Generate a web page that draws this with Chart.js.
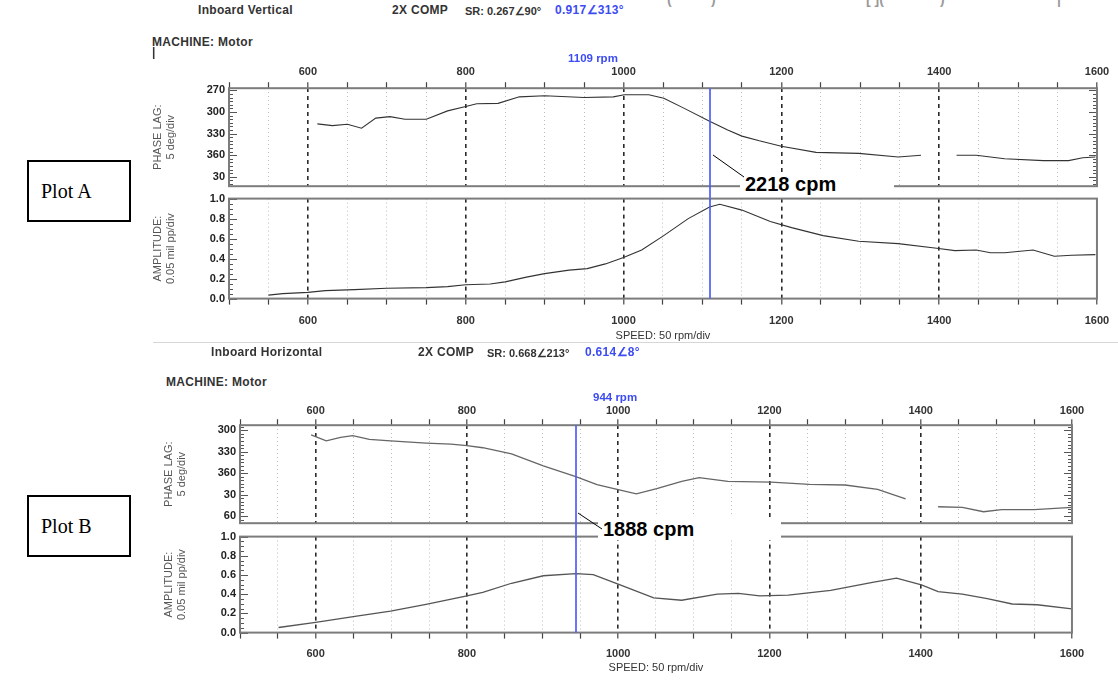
<!DOCTYPE html>
<html>
<head>
<meta charset="utf-8">
<title>Motor inboard - 2X comp Bode plots</title>
<script src="https://cdn.jsdelivr.net/npm/chart.js@4.4.1/dist/chart.umd.min.js"></script>
<style>
  body { margin: 0; width: 1118px; height: 687px; position: relative; overflow: hidden; background: #fff;
         font-family: "Liberation Sans", Arial, sans-serif; }
  .txt { position: absolute; white-space: nowrap; font-size: 12px; font-weight: bold; letter-spacing: 0.3px;
         color: #333; line-height: 14px; z-index: 4; }
  .blue { color: #3c4cf2; }
  .small { font-size: 11.5px; letter-spacing: 0; }
  .sr { font-size: 11px; letter-spacing: 0; top: 4px; }
  .cut { position: absolute; top: -9px; font-size: 14px; color: #9a9a9a; font-weight: bold; }
  .plotbox { position: absolute; left: 27px; width: 104px; height: 62px; box-sizing: border-box; border: 2px solid #000;
             font-family: "Liberation Serif", "Times New Roman", serif; font-size: 20px; line-height: 58px; padding-left: 12px; }
  .cpm { position: absolute; background: #fff; font: bold 20px "Liberation Sans", Arial, sans-serif; color: #000;
         z-index: 5; line-height: 24px; padding-left: 5px; box-sizing: border-box; }
  .wrap { position: absolute; }
</style>
</head>
<body>

<span class="cut" style="left:667px">(</span>
<span class="cut" style="left:711px">)</span>
<span class="cut" style="left:866px">[ ](</span>
<span class="cut" style="left:940px">)</span>
<span class="cut" style="left:1057px">|</span>

<div class="txt" style="left:198px;top:3px">Inboard Vertical</div>
<div class="txt" style="left:392px;top:3px">2X COMP</div>
<div class="txt sr" style="left:465px;top:4px">SR: 0.267∠90°</div>
<div class="txt blue" style="left:555px;top:3px">0.917∠313°</div>
<div class="txt" style="left:152px;top:35px">MACHINE: Motor</div>
<div class="txt" style="left:152px;top:45px">|</div>
<div class="txt blue small" style="left:568px;top:51px">1109 rpm</div>

<div style="position:absolute;left:153px;top:342px;width:965px;height:1px;background:#d6d6d6"></div>

<div class="txt" style="left:211px;top:345px">Inboard Horizontal</div>
<div class="txt" style="left:418px;top:345px">2X COMP</div>
<div class="txt sr" style="left:487px;top:346px">SR: 0.668∠213°</div>
<div class="txt blue" style="left:585px;top:345px">0.614∠8°</div>
<div class="txt" style="left:166px;top:375px">MACHINE: Motor</div>
<div class="txt blue small" style="left:593px;top:390px">944 rpm</div>

<div class="plotbox" style="top:160px">Plot A</div>
<div class="plotbox" style="top:495px">Plot B</div>

<div class="cpm" style="left:740px;top:172px;width:154px;height:23px">2218 cpm</div>
<div class="cpm" style="left:598px;top:517px;width:183px;height:23px">1888 cpm</div>

<svg style="position:absolute;left:0;top:0;z-index:6" width="1118" height="687">
  <line x1="713" y1="155" x2="744" y2="177" stroke="#000" stroke-width="1"/>
  <line x1="578" y1="513" x2="602" y2="529" stroke="#000" stroke-width="1"/>
</svg>

<script>
// speed axis (rpm), shared by all four panels
const speedTicks = [500, 550, 600, 650, 700, 750, 800, 850, 900, 950, 1000, 1050,
                    1100, 1150, 1200, 1250, 1300, 1350, 1400, 1450, 1500, 1550, 1600];
const speedLabels = [600, 800, 1000, 1200, 1400, 1600];
const phaseTicksA = [270, 300, 330, 360, 390];
const phaseTicksB = [300, 330, 360, 390, 420];
const ampTicks = [0, 0.2, 0.4, 0.6, 0.8, 1.0];

// Plot A - inboard vertical
const cursorA = 1109;
const phaseRpmA = [612, 631, 650, 668, 686, 704, 723, 750, 777, 800, 814, 841, 868, 900, 950, 987, 1001, 1032,
                   1051, 1077, 1109, 1132, 1150, 1172, 1200, 1244, 1298, 1348, 1377, 1400,
                   1422, 1447, 1483, 1532, 1564, 1582, 1598];
const phaseLagA = [316.5, 319, 317, 322.5, 308.5, 306.5, 310, 310, 298.5, 292.5, 288.5, 288, 279, 277.5, 280, 279, 276, 276,
                   281, 295, 313, 325, 333.5, 340, 347.5, 356, 357.5, 362.5, 360, null,
                   360, 360, 365, 367.5, 367.5, 363.5, 362.5];
const ampRpmA = [550, 568, 600, 622, 659, 700, 750, 777, 800, 831, 850, 877, 900, 931, 954, 977, 1000, 1023,
                 1050, 1082, 1109, 1122, 1150, 1186, 1213, 1253, 1298, 1348, 1397, 1420, 1447, 1465, 1483,
                 1519, 1546, 1568, 1598];
const amplitudeA = [0.035, 0.05, 0.062, 0.08, 0.09, 0.104, 0.11, 0.12, 0.138, 0.146, 0.167, 0.215, 0.25, 0.285, 0.30, 0.347, 0.41, 0.486,
                    0.625, 0.80, 0.917, 0.944, 0.885, 0.77, 0.71, 0.63, 0.573, 0.55, 0.503, 0.48, 0.486, 0.458, 0.458,
                    0.486, 0.424, 0.434, 0.44];

// Plot B - inboard horizontal
const cursorB = 944;
const phaseRpmB = [594, 614, 633, 649, 671, 699, 746, 779, 800, 821, 859, 901, 944, 972, 1000, 1024, 1051, 1084,
                   1107, 1145, 1202, 1253, 1300, 1343, 1380, 1400,
                   1423, 1455, 1483, 1507, 1550, 1600];
const phaseLagB = [306.5, 315, 310, 307.7, 312.8, 315, 318, 319.4, 321.5, 324.5, 333, 350, 365, 376, 383, 389, 381.7, 371.5,
                   366.4, 371.5, 372.5, 375.6, 376.6, 382.7, 396, null,
                   407, 408, 414, 411, 411, 408];
const ampRpmB = [551, 600, 652, 699, 746, 800, 821, 859, 901, 944, 967, 1000, 1047, 1084, 1131, 1159, 1187, 1225,
                 1281, 1338, 1368, 1401, 1423, 1455, 1488, 1521, 1554, 1600];
const amplitudeB = [0.053, 0.106, 0.17, 0.223, 0.294, 0.383, 0.418, 0.514, 0.592, 0.614, 0.603, 0.504, 0.362, 0.337, 0.40, 0.408, 0.383, 0.39,
                    0.44, 0.525, 0.567, 0.496, 0.426, 0.40, 0.355, 0.298, 0.29, 0.248];

const tickFont = { family: '"Liberation Sans", Arial, sans-serif', size: 11, weight: 'bold' };
const titleFont = { family: '"Liberation Sans", Arial, sans-serif', size: 11 };
const isMajor = v => speedLabels.includes(v);

function pairs(xs, ys) {
  return xs.map((x, i) => ({ x: x, y: ys[i] }));
}

function speedAxis(pos, pad, title) {
  return {
    type: 'linear', position: pos, min: 500, max: 1600,
    afterBuildTicks: s => { s.ticks = speedTicks.map(v => ({ value: v })); },
    ticks: { autoSkip: false, maxRotation: 0, padding: pad, color: '#333', font: tickFont,
             callback: v => isMajor(v) ? String(v) : '' },
    grid: {
      color: c => (!c.tick || c.tick.value <= 500 || c.tick.value >= 1600) ? 'rgba(0,0,0,0)'
                  : (isMajor(c.tick.value) ? '#2a2a2a' : '#bdbdbd'),
      lineWidth: c => (c.tick && isMajor(c.tick.value)) ? 1.6 : 1,
      tickColor: '#444', tickLength: 6, tickWidth: 1.2, tickBorderDash: []
    },
    border: { display: false, dash: c => (c.tick && isMajor(c.tick.value)) ? [4, 4] : [1, 3] },
    title: title ? { display: true, text: title, color: '#333', font: titleFont, padding: { top: -8, bottom: 0 } }
                 : { display: false }
  };
}

function valueAxis(min, max, ticksArr, width, reverse, fmt, lines) {
  return {
    type: 'linear', position: 'left', min: min, max: max, reverse: reverse,
    afterBuildTicks: s => { s.ticks = ticksArr.map(v => ({ value: v })); },
    afterFit: s => { s.width = width; },
    ticks: { padding: 4, color: '#222', font: tickFont, callback: fmt },
    grid: { drawOnChartArea: false, drawTicks: false },
    border: { display: false },
    title: { display: true, text: lines, color: '#555', font: titleFont, padding: 0 }
  };
}

// frame, inner minor ticks and the blue speed cursor
const panelPlugin = {
  id: 'panel',
  afterDraw(chart, args, o) {
    const c = chart.ctx, a = chart.chartArea, y = chart.scales.y, x = chart.scales.x;
    c.save();
    c.strokeStyle = '#555';
    c.lineWidth = 1;
    const n0 = Math.ceil(y.min / o.step - 1e-9), n1 = Math.floor(y.max / o.step + 1e-9);
    for (let n = n0; n <= n1; n++) {
      const v = n * o.step;
      const py = Math.round(y.getPixelForValue(v)) + 0.5;
      const len = o.majors.some(m => Math.abs(m - v) < 1e-6) ? 8 : 4;
      c.beginPath();
      c.moveTo(a.left, py); c.lineTo(a.left + len, py);
      if (o.rightTicks) { c.moveTo(a.right - len, py); c.lineTo(a.right, py); }
      c.stroke();
    }
    c.strokeStyle = '#7c7c7c';
    c.lineWidth = 2;
    c.strokeRect(a.left, a.top, a.right - a.left, a.bottom - a.top);
    const px = Math.round(x.getPixelForValue(o.cursor));
    c.strokeStyle = 'rgba(78, 94, 250, 0.85)';
    c.lineWidth = 2;
    c.beginPath();
    c.moveTo(px, a.top);
    c.lineTo(px, a.bottom + o.below);
    c.stroke();
    c.restore();
  }
};

// place a chart so that its plot area lands on the given rectangle
function panel(area, config) {
  const wrap = document.createElement('div');
  wrap.className = 'wrap';
  wrap.style.width = (area.r - area.l + 140) + 'px';
  wrap.style.height = (area.b - area.t + 70) + 'px';
  const cv = document.createElement('canvas');
  wrap.appendChild(cv);
  document.body.appendChild(wrap);
  const chart = new Chart(cv, config);
  const ca = chart.chartArea;
  const ml = ca.left, mt = ca.top, mr = chart.width - ca.right, mb = chart.height - ca.bottom;
  wrap.style.left = (area.l - ml) + 'px';
  wrap.style.top = (area.t - mt) + 'px';
  wrap.style.width = (area.r - area.l + ml + mr) + 'px';
  wrap.style.height = (area.b - area.t + mt + mb) + 'px';
  chart.resize();
  return chart;
}

function lineSet(data, color, width) {
  return { data: data, borderColor: color, borderWidth: width, pointRadius: 0, tension: 0,
           spanGaps: false, fill: false };
}

function baseOptions(scales, pluginOpts, padding) {
  return {
    responsive: true, maintainAspectRatio: false, animation: false,
    layout: { padding: padding },
    scales: scales,
    plugins: { legend: { display: false }, tooltip: { enabled: false }, panel: pluginOpts }
  };
}

const phaseFmt = v => v > 360 ? String(v - 360) : String(v);
const ampFmt = v => v.toFixed(1);

// Plot A
panel({ l: 229, r: 1097, t: 88, b: 186 }, {
  type: 'line',
  data: { datasets: [lineSet(pairs(phaseRpmA, phaseLagA), '#333', 1.1)] },
  options: baseOptions({
    x: speedAxis('top', 4),
    y: valueAxis(267, 403, phaseTicksA, 78, true, phaseFmt, ['PHASE LAG:', '5 deg/div'])
  }, { step: 5, majors: phaseTicksA, rightTicks: true, cursor: cursorA, below: 14 },
     { left: 0, top: 0, right: 20, bottom: 16 }),
  plugins: [panelPlugin]
});

panel({ l: 229, r: 1097, t: 199, b: 299 }, {
  type: 'line',
  data: { datasets: [lineSet(pairs(ampRpmA, amplitudeA), '#333', 1.1)] },
  options: baseOptions({
    x: speedAxis('bottom', 10, 'SPEED: 50 rpm/div'),
    y: valueAxis(0, 1, ampTicks, 78, false, ampFmt, ['AMPLITUDE:', '0.05 mil pp/div'])
  }, { step: 0.05, majors: ampTicks, rightTicks: false, cursor: cursorA, below: 0 },
     { left: 0, top: 4, right: 20, bottom: 4 }),
  plugins: [panelPlugin]
});

// Plot B
panel({ l: 240, r: 1072, t: 425, b: 523 }, {
  type: 'line',
  data: { datasets: [lineSet(pairs(phaseRpmB, phaseLagB), '#666', 1.3)] },
  options: baseOptions({
    x: speedAxis('top', 2),
    y: valueAxis(293, 430, phaseTicksB, 78, true, phaseFmt, ['PHASE LAG:', '5 deg/div'])
  }, { step: 5, majors: phaseTicksB, rightTicks: true, cursor: cursorB, below: 15 },
     { left: 0, top: 0, right: 20, bottom: 16 }),
  plugins: [panelPlugin]
});

panel({ l: 240, r: 1072, t: 537, b: 633 }, {
  type: 'line',
  data: { datasets: [lineSet(pairs(ampRpmB, amplitudeB), '#555', 1.3)] },
  options: baseOptions({
    x: speedAxis('bottom', 9, 'SPEED: 50 rpm/div'),
    y: valueAxis(0, 1, ampTicks, 78, false, ampFmt, ['AMPLITUDE:', '0.05 mil pp/div'])
  }, { step: 0.05, majors: ampTicks, rightTicks: false, cursor: cursorB, below: 0 },
     { left: 0, top: 4, right: 20, bottom: 4 }),
  plugins: [panelPlugin]
});
</script>
</body>
</html>
